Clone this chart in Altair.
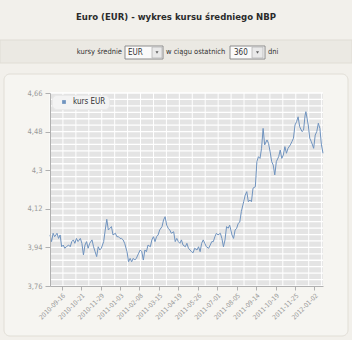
import json
import altair as alt
import pandas as pd

# ---- data ----
sesja = [0, 2, 4, 6, 9, 11, 13, 15, 17, 19, 21, 24, 26, 28, 30, 32, 34, 36, 39, 41,
         43, 45, 47, 49, 51, 54, 56, 58, 60, 62, 64, 66, 69, 71, 73, 75, 77, 79, 81, 84,
         86, 88, 90, 92, 94, 96, 99, 101, 103, 105, 107, 109, 111, 114, 116, 118, 120, 122, 124, 126,
         129, 131, 133, 135, 137, 139, 141, 144, 146, 148, 150, 152, 154, 156, 159, 161, 163, 165, 167, 169,
         171, 174, 176, 178, 180, 182, 184, 186, 189, 191, 193, 195, 197, 199, 201, 204, 206, 208, 210, 212,
         214, 216, 219, 221, 223, 225, 227, 229, 231, 234, 236, 238, 240, 242, 244, 246, 249, 251, 253, 255,
         257, 259, 261, 264, 266, 268, 270, 272, 274, 276, 279, 281, 283, 285, 287, 289, 291, 294, 296, 298,
         300, 302, 304, 306, 309, 311, 313, 315, 317, 319, 321, 324, 326, 328, 329, 332, 334, 336, 339, 341,
         343, 345, 347, 349, 351]
kurs = [3.998, 3.967, 4.006, 3.990, 4.006, 3.982, 3.998, 3.943, 3.951, 3.936, 3.943, 3.951, 3.943, 3.967, 3.975, 3.959, 3.982, 3.967, 3.982, 3.959,
        3.905, 3.951, 3.967, 3.936, 3.959, 3.975, 3.943, 3.920, 3.897, 3.943, 3.928, 3.936, 3.967, 4.021, 4.071, 4.021, 4.029, 4.037, 3.998, 4.006,
        3.990, 3.990, 3.982, 3.982, 3.975, 3.959, 3.920, 3.873, 3.889, 3.873, 3.889, 3.881, 3.889, 3.913, 3.928, 3.920, 3.881, 3.928, 3.920, 3.951,
        3.943, 3.975, 3.990, 3.967, 3.990, 3.998, 4.021, 4.037, 4.068, 4.083, 4.044, 4.029, 4.021, 4.006, 4.013, 3.967, 3.982, 3.967, 3.959, 3.975,
        3.951, 3.943, 3.959, 3.936, 3.928, 3.920, 3.915, 3.936, 3.928, 3.943, 3.920, 3.959, 3.975, 3.959, 3.943, 3.936, 3.951, 3.967, 3.967, 3.990,
        4.006, 3.998, 4.006, 3.982, 3.943, 3.975, 4.037, 4.029, 4.044, 3.998, 3.982, 4.021, 4.029, 4.052, 4.058, 4.107, 4.153, 4.184, 4.200, 4.153,
        4.161, 4.153, 4.216, 4.223, 4.340, 4.363, 4.355, 4.402, 4.495, 4.418, 4.441, 4.425, 4.386, 4.340, 4.324, 4.278, 4.340, 4.363, 4.394, 4.355,
        4.371, 4.410, 4.379, 4.402, 4.418, 4.433, 4.449, 4.511, 4.526, 4.549, 4.503, 4.480, 4.487, 4.557, 4.573, 4.511, 4.449, 4.433, 4.402, 4.464,
        4.480, 4.519, 4.495, 4.418, 4.379]
seria = "kurs EUR"
etykiety_x = ["2010-09-16", "2010-10-21", "2010-11-29", "2011-01-03", "2011-02-08",
              "2011-03-15", "2011-04-19", "2011-05-26", "2011-07-01", "2011-08-05",
              "2011-09-14", "2011-10-19", "2011-11-25", "2012-01-02"]
pozycje_x = [15, 40, 65, 90, 115, 140, 165, 190, 215, 240, 265, 290, 315, 340]
wartosci_y = [3.76, 3.94, 4.12, 4.3, 4.48, 4.66]
siatka_y = [round(3.76 + 0.03 * k, 2) for k in range(31)]
siatka_x = [round(16.63 * k, 2) for k in range(22)]

tytul = "Euro (EUR) - wykres kursu średniego NBP"
waluta = "EUR"
dni = "360"

FONT = "DejaVu Sans Condensed"
W, H = 273, 193
LINE = "#6f93bf"
PAGE = "#f2f0eb"

df = pd.DataFrame({"sesja": sesja, "kurs": kurs, "seria": seria})
one = pd.DataFrame({"a": [0]})
xs = alt.Scale(domain=[0, 351], nice=False, zero=False)
ys = alt.Scale(domain=[3.76, 4.66], nice=False, zero=False)

lab_expr = json.dumps(etykiety_x) + "[round((datum.value-15)/25)]"
ax_x = alt.Axis(
    values=pozycje_x, labelExpr=lab_expr, labelAngle=-45, title=None, grid=False, zindex=1,
    labelFont=FONT, labelFontSize=6.5, labelColor="#9a9a9a", tickColor="#b0b0b0",
    domainColor="#b0b0b0", tickSize=4, labelPadding=2, labelFlush=False, labelOverlap=False)
ax_y = alt.Axis(
    values=wartosci_y, labelExpr="replace(format(datum.value, '.3~r'), '.', ',')", zindex=1,
    title=None, grid=False, labelFont=FONT, labelFontSize=7.5, labelColor="#9a9a9a",
    tickColor="#b0b0b0", domainColor="#b0b0b0", tickSize=5, labelPadding=3, labelFlush=False,
    labelOverlap=False)


def box(x1, x2, y1, y2, **kw):
    return alt.Chart(one).mark_rect(**kw).encode(
        x=alt.value(x1), x2=alt.value(x2), y=alt.value(y1), y2=alt.value(y2))


def txt(s, x, y, **kw):
    return alt.Chart(one).mark_text(text=s, font=FONT, baseline="middle", **kw).encode(
        x=alt.value(x), y=alt.value(y))


panel = box(-46, 298, -19, 243, fill="#f6f5f1", stroke="#e1ded6", strokeWidth=1, cornerRadius=6)
band = box(-50, 302, -53, -30, fill="#ebe9e3", stroke="#e0ddd5", strokeWidth=1)
plotbg = box(0, W, 0, H, fill="#e4e4e4")

grid_h = alt.Chart(pd.DataFrame({"v": siatka_y})).mark_rule(color="white", strokeWidth=1.3).encode(
    y=alt.Y("v:Q", scale=ys, axis=ax_y))
grid_v = alt.Chart(pd.DataFrame({"v": siatka_x})).mark_rule(color="white", strokeWidth=1).encode(
    x=alt.X("v:Q", scale=xs, axis=ax_x))

line = alt.Chart(df).mark_line(strokeWidth=1, color=LINE).encode(
    x=alt.X("sesja:Q", scale=xs, axis=ax_x),
    y=alt.Y("kurs:Q", scale=ys, axis=ax_y),
    color=alt.Color("seria:N", scale=alt.Scale(range=[LINE]), legend=alt.Legend(
        orient="none", legendX=2, legendY=2, title=None, fillColor="#f3f3f3",
        strokeColor="#e9e9e9", cornerRadius=4, padding=3, symbolType="square",
        symbolSize=14, symbolOffset=5, labelOffset=5, labelFont=FONT, labelFontSize=8,
        symbolFillColor=LINE, symbolStrokeWidth=0, labelColor="#333333", zindex=2)),
)

title_t = txt(tytul, 126, -76, fontSize=9.5, fontWeight="bold", color="#2b2b2b", align="center")
t1 = txt("kursy średnie", 72, -41, fontSize=7.5, color="#333333", align="right")
b1 = box(75, 113, -47, -34, fill="#fafafa", stroke="#8c8c8c", strokeWidth=1)
b1btn = box(102, 112, -46, -35, fill="#e9e9e9", stroke="#b5b5b5", strokeWidth=0.8)
b1tri = alt.Chart(one).mark_point(shape="triangle-down", filled=True, size=9, color="#222").encode(
    x=alt.value(107), y=alt.value(-40.5))
t_eur = txt(waluta, 78, -40.5, fontSize=8, color="#333333", align="left")
t2 = txt("w ciągu ostatnich", 116, -41, fontSize=7.5, color="#333333", align="left")
b2 = box(180, 215, -47, -34, fill="#fafafa", stroke="#8c8c8c", strokeWidth=1)
b2btn = box(202, 213, -46, -35, fill="#e9e9e9", stroke="#b5b5b5", strokeWidth=0.8)
b2tri = alt.Chart(one).mark_point(shape="triangle-down", filled=True, size=9, color="#222").encode(
    x=alt.value(207.5), y=alt.value(-40.5))
t_360 = txt(dni, 184, -40.5, fontSize=8, color="#333333", align="left")
t3 = txt("dni", 218, -41, fontSize=7.5, color="#333333", align="left")

chart = alt.layer(
    panel, band, plotbg, grid_h, grid_v, line,
    title_t, t1, b1, b1btn, b1tri, t_eur, t2, b2, b2btn, b2tri, t_360, t3,
).properties(
    width=W, height=H,
    autosize=alt.AutoSizeParams(type="none"),
    padding={"left": 50, "top": 93, "right": 29, "bottom": 54},
).configure(background=PAGE).configure_view(stroke=None)

chart.save("out.html", embed_options={"renderer": "svg", "actions": False})
